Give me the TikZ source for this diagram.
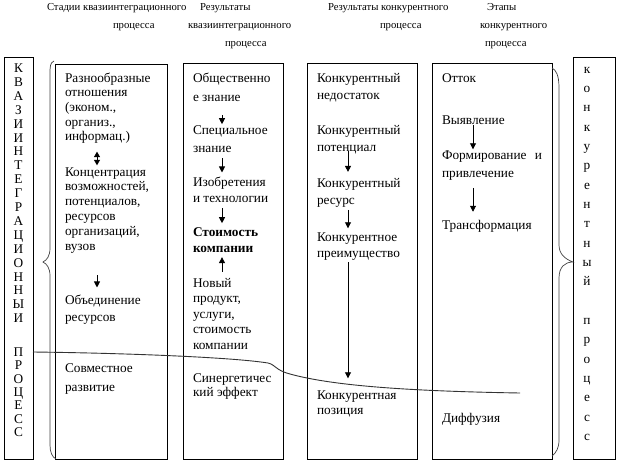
\documentclass[tikz,border=0pt]{standalone}
\usepackage{fontspec}
\setmainfont{Liberation Serif}
\usetikzlibrary{arrows.meta}
\tikzset{
  every node/.append style={inner sep=0pt,outer sep=0pt},
  txt/.style={anchor=base west,align=left,font=\fontsize{13.3}{#1}\selectfont},
  txt/.default=15,
  head/.style={anchor=base west,font=\fontsize{10.7}{12}\selectfont},
  letter/.style={anchor=base,font=\fontsize{13.3}{15}\selectfont},
  arr/.style={-{Triangle[length=6pt,width=6pt]},line width=0.9pt},
  darr/.style={{Triangle[length=5.5pt,width=6pt]}-{Triangle[length=5.5pt,width=6pt]},line width=0.9pt},
  frame/.style={line width=0.9pt},
  brace/.style={line width=0.7pt,black!75},
  sep/.style={line width=0.9pt,black!80}
}
\begin{document}
\begin{tikzpicture}[x=1pt,y=-1pt]
\useasboundingbox (0,0) rectangle (618,463);
% headers
\node[head] (hst1) at (47,10.5) {Стадии квазиинтеграционного};
\node[head] (hst2) at (113,28.5) {процесса};
\node[head] (hkv1) at (200,10.5) {Результаты};
\node[head] (hkv2) at (188,28.5) {квазиинтеграционного};
\node[head] (hkv3) at (225,46.5) {процесса};
\node[head] (hrk1) at (328,10.5) {Результаты конкурентного};
\node[head] (hrk2) at (380,28.5) {процесса};
\node[head] (het1) at (487,10.5) {Этапы};
\node[head] (het2) at (480,28.5) {конкурентного};
\node[head] (het3) at (485,46.5) {процесса};

% frames
\draw[frame] (4,57) rectangle (33,459);
\draw[frame] (55,64) rectangle (167,459);
\draw[frame] (183,63) rectangle (283,459);
\draw[frame] (307,63) rectangle (417,459);
\draw[frame] (432,63) rectangle (552,459);
\draw[frame] (573,57) rectangle (615,459);

% vertical words
\foreach \ch [count=\i from 0] in {К,В,А,З,И,И,Н,Т,Е,Г,Р,А,Ц,И,О,Н,Н,Ы,И}
  \node[letter] (kq\i) at (18.5,{72.5+13.9*\i}) {\ch};
\foreach \ch [count=\i from 0] in {П,Р,О,Ц,Е,С,С}
  \node[letter] (kp\i) at (18.5,{356.5+13.3*\i}) {\ch};
\foreach \ch [count=\i from 0] in {к,о,н,к,у,р,е,н,т,н,ы,й}
  \node[letter] (cq\i) at (587,{73+19.35*\i}) {\ch};
\foreach \ch [count=\i from 13] in {п,р,о,ц,е,с,с}
  \node[letter] (cp\i) at (587,{73+19.35*\i}) {\ch};

% braces
\draw[brace] (54,61) .. controls (50,63) and (50,66) .. (50,75) -- (50,248)
  .. controls (50,256) and (47,260) .. (43,262) .. controls (47,264) and (50,268) .. (50,276)
  -- (50,445) .. controls (50,452) and (52,457) .. (56,459);
\draw[brace] (552,68) .. controls (556,70) and (559,75) .. (559,88) -- (559,245)
  .. controls (559,254) and (565,259) .. (573,262) .. controls (565,262) and (559,267) .. (559,278)
  -- (559,440) .. controls (559,448) and (556,453) .. (552,456);

% column 1 (base = last line)
\node[txt=14.7] (div) at (65,140.8) {Разнообразные\\отношения\\(эконом.,\\организ.,\\информац.)};
\node[txt=14.9] (conc) at (65,250.5) {Концентрация\\возможностей,\\потенциалов,\\ресурсов\\организаций,\\вузов};
\node[txt=17] (obed) at (65,321) {Объединение\\ресурсов};
\node[txt=19] (sovm) at (65,391) {Совместное\\развитие};

% column 2
\node[txt=19] (soc) at (193,101) {Общественно\\е знание};
\node[txt=18] (spec) at (193,152) {Специальное\\знание};
\node[txt=16] (izob) at (193,202) {Изобретения\\и технологии};
\node[txt=16,font=\fontsize{13.3}{16}\selectfont\bfseries] (stoim) at (193,252) {Стоимость\\компании};
\node[txt=15.5] (newp) at (193,349) {Новый\\продукт,\\услуги,\\стоимость\\компании};
\node[txt=14.5] (syn) at (193,396.5) {Синергетичес\\кий эффект};

% column 3
\node[txt=17] (ned) at (317,99) {Конкурентный\\недостаток};
\node[txt=17] (pot) at (317,151) {Конкурентный\\потенциал};
\node[txt=17] (res) at (317,204) {Конкурентный\\ресурс};
\node[txt=16.5] (preim) at (317,257.5) {Конкурентное\\преимущество};
\node[txt=15.5] (poz) at (317,414.5) {Конкурентная\\позиция};

% column 4
\node[txt] (ott) at (442,82) {Отток};
\node[txt] (vyy) at (442,124) {Выявление};
\node[txt=18] (form) at (442,177) {\makebox[100pt][s]{Формирование и}\\привлечение};
\node[txt] (trans) at (442,229) {Трансформация};
\node[txt] (diff) at (442,422) {Диффузия};

% arrows
\coordinate (ax1) at (97,0);
\coordinate (ax2) at (222,0);
\coordinate (ax3) at (348,0);
\coordinate (ax4) at (473,0);
\draw[darr,shorten <=8,shorten >=2] (div.south -| ax1) -- (conc.north -| ax1);
\draw[arr,shorten <=22,shorten >=7] (conc.south -| ax1) -- (obed.north -| ax1);
\draw[arr,shorten <=14,shorten >=1] (soc.south -| ax2) -- (spec.north -| ax2);
\draw[arr,shorten <=6,shorten >=4] (spec.south -| ax2) -- (izob.north -| ax2);
\draw[arr,shorten <=6,shorten >=4] (izob.south -| ax2) -- (stoim.north -| ax2);
\draw[arr,shorten <=6,shorten >=5] (newp.north -| ax2) -- (stoim.south -| ax2);
\draw[arr,shorten <=-3,shorten >=6] (pot.south -| ax3) -- (res.north -| ax3);
\draw[arr,shorten <=3,shorten >=4] (res.south -| ax3) -- (preim.north -| ax3);
\draw[arr,shorten <=2,shorten >=12] (preim.south -| ax3) -- (poz.north -| ax3);
\draw[arr,shorten <=1,shorten >=1] (vyy.south -| ax4) -- (form.north -| ax4);
\draw[arr,shorten <=8,shorten >=8] (form.south -| ax4) -- (trans.north -| ax4);

% boundary line
\draw[sep] (33,352) .. controls (120,353) and (230,357) .. (268,363)
  .. controls (276,365) and (275,370) .. (290,374)
  .. controls (330,385) and (400,391) .. (520,393);
\end{tikzpicture}
\end{document}
